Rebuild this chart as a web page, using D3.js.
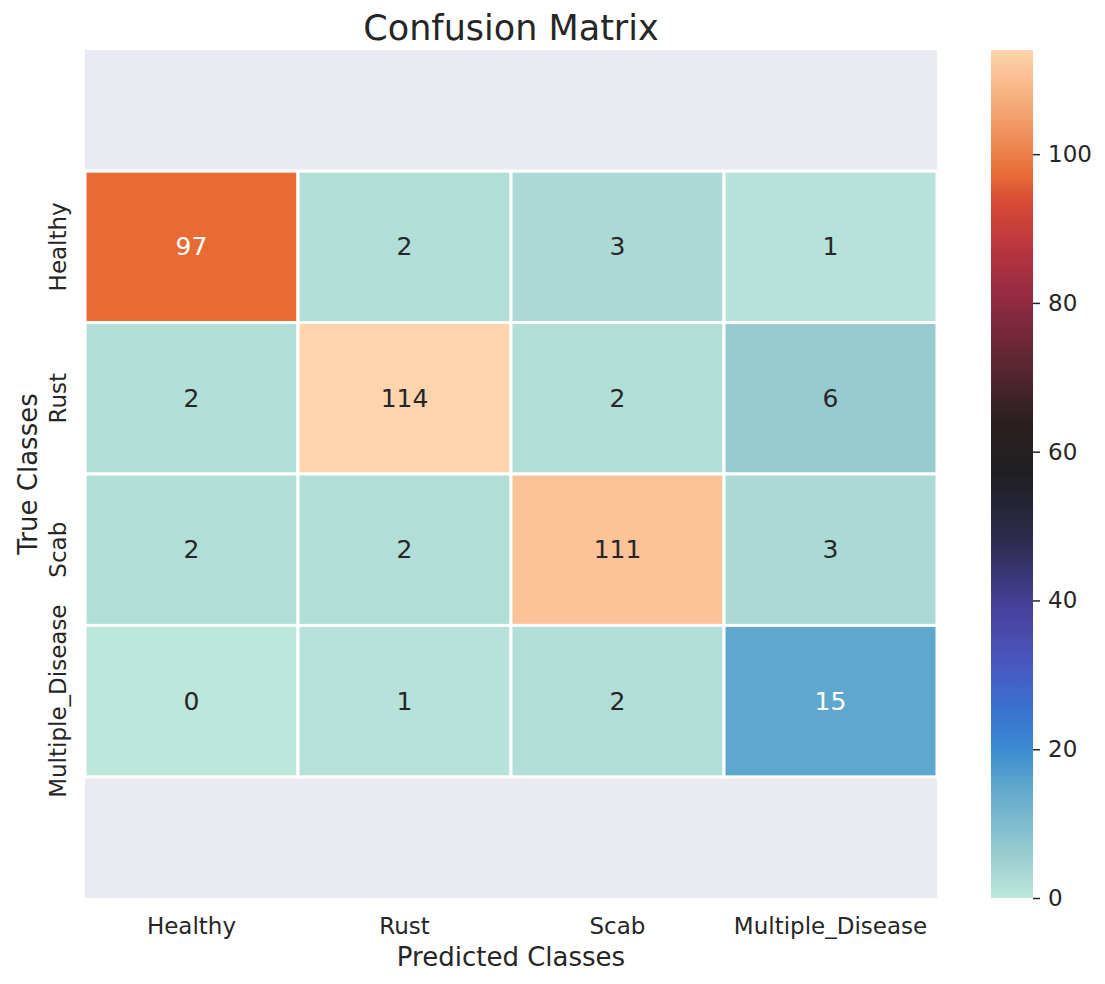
<!DOCTYPE html>
<html>
<head>
<meta charset="utf-8">
<script src="https://cdn.jsdelivr.net/npm/d3@7"></script>
<style>
  body { margin: 0; background: #fff; }
  text { font-family: "DejaVu Sans", sans-serif; fill: #262626; }
</style>
</head>
<body>
<div id="plot"></div>
<script>
// confusion matrix, seaborn-style heatmap with icefire colours
const classes = ['Healthy', 'Rust', 'Scab', 'Multiple_Disease'];
const matrix = [
  [97, 2, 3, 1],
  [2, 114, 2, 6],
  [2, 2, 111, 3],
  [0, 1, 2, 15],
];
const cbarTicks = [0, 20, 40, 60, 80, 100];

// icefire approximation (position in [0,1], colour)
const icefireStops = [
  [0.0, '#bde7db'], [0.053, '#98cbd0'], [0.13, '#5fa8cd'], [0.175, '#3b8bd0'],
  [0.22, '#3a73d0'], [0.28, '#4a55bf'], [0.35, '#463f95'], [0.42, '#2e2c4f'],
  [0.5, '#1f1f22'], [0.56, '#2a1f1f'], [0.62, '#552530'], [0.7, '#8e2a42'],
  [0.76, '#b5333f'], [0.82, '#d84a35'], [0.851, '#e86a35'], [0.92, '#f3a06c'],
  [0.974, '#fbc397'], [1.0, '#fdd4ab'],
];

const W = 1105, H = 984;
const ax = { left: 85, right: 937, top: 50, bottom: 898 };
const cb = { left: 991, right: 1033 };

const svg = d3.select('#plot').append('svg').attr('width', W).attr('height', H);

const vmin = 0;
const vmax = d3.max(matrix.flat());
const icefire = d3.scaleLinear()
  .domain(icefireStops.map((s) => s[0]))
  .range(icefireStops.map((s) => s[1]))
  .interpolate(d3.interpolateRgb)
  .clamp(true);
const color = (v) => icefire((v - vmin) / (vmax - vmin));

const x = d3.scaleBand().domain(classes).range([ax.left, ax.right]);
// y limits extend 0.8 row past the data on both sides
const yLin = d3.scaleLinear().domain([-0.8, classes.length + 0.8]).range([ax.top, ax.bottom]);

svg.append('rect')
  .attr('x', ax.left).attr('y', ax.top)
  .attr('width', ax.right - ax.left).attr('height', ax.bottom - ax.top)
  .attr('fill', '#eaeaf2');

const cells = [];
matrix.forEach((row, i) => row.forEach((v, j) => cells.push({ i, j, v })));

const g = svg.append('g');
g.selectAll('rect.cell').data(cells).enter().append('rect')
  .attr('class', 'cell')
  .attr('x', (d) => x(classes[d.j]))
  .attr('y', (d) => yLin(d.i))
  .attr('width', x.bandwidth())
  .attr('height', (d) => yLin(d.i + 1) - yLin(d.i))
  .attr('fill', (d) => color(d.v))
  .attr('stroke', '#fff')
  .attr('stroke-width', 3);

const lum = (c) => {
  const rgb = d3.rgb(c);
  const f = (u) => { u /= 255; return u <= 0.03928 ? u / 12.92 : Math.pow((u + 0.055) / 1.055, 2.4); };
  return 0.2126 * f(rgb.r) + 0.7152 * f(rgb.g) + 0.0722 * f(rgb.b);
};

g.selectAll('text.annot').data(cells).enter().append('text')
  .attr('class', 'annot')
  .attr('x', (d) => x(classes[d.j]) + x.bandwidth() / 2)
  .attr('y', (d) => yLin(d.i + 0.5))
  .attr('text-anchor', 'middle')
  .attr('dominant-baseline', 'central')
  .style('font-size', '25px')
  .style('fill', (d) => (lum(color(d.v)) > 0.408 ? '#262626' : '#ffffff'))
  .text((d) => d.v);

// x tick labels
svg.append('g').selectAll('text').data(classes).enter().append('text')
  .attr('x', (d) => x(d) + x.bandwidth() / 2)
  .attr('y', ax.bottom + 28)
  .attr('text-anchor', 'middle')
  .attr('dominant-baseline', 'central')
  .style('font-size', '23px')
  .text((d) => d);

// y tick labels (rotated)
svg.append('g').selectAll('text').data(classes).enter().append('text')
  .attr('transform', (d, i) => `translate(${ax.left - 27},${yLin(i + 0.5)}) rotate(-90)`)
  .attr('text-anchor', 'middle')
  .attr('dominant-baseline', 'central')
  .style('font-size', '23px')
  .text((d) => d);

svg.append('text')
  .attr('x', (ax.left + ax.right) / 2).attr('y', 957)
  .attr('text-anchor', 'middle').attr('dominant-baseline', 'central')
  .style('font-size', '26px')
  .text('Predicted Classes');

svg.append('text')
  .attr('transform', `translate(28,${(ax.top + ax.bottom) / 2}) rotate(-90)`)
  .attr('text-anchor', 'middle').attr('dominant-baseline', 'central')
  .style('font-size', '26px')
  .text('True Classes');

svg.append('text')
  .attr('x', (ax.left + ax.right) / 2).attr('y', 28)
  .attr('text-anchor', 'middle').attr('dominant-baseline', 'central')
  .style('font-size', '35px')
  .text('Confusion Matrix');

// colorbar
const cbY = d3.scaleLinear().domain([vmin, vmax]).range([ax.bottom, ax.top]);
const defs = svg.append('defs');
const grad = defs.append('linearGradient').attr('id', 'cbgrad')
  .attr('x1', 0).attr('y1', 1).attr('x2', 0).attr('y2', 0);
d3.range(0, 1.0001, 0.01).forEach((t) => {
  grad.append('stop').attr('offset', t).attr('stop-color', icefire(t));
});
svg.append('rect')
  .attr('x', cb.left).attr('y', cbY(vmax))
  .attr('width', cb.right - cb.left).attr('height', cbY(vmin) - cbY(vmax))
  .attr('fill', 'url(#cbgrad)');

const cbAxis = d3.axisRight(cbY).tickValues(cbarTicks).tickSize(7).tickPadding(8);
const cbG = svg.append('g').attr('transform', `translate(${cb.right},0)`).call(cbAxis);
cbG.select('.domain').remove();
cbG.selectAll('line').attr('stroke', '#262626').attr('stroke-width', 1.5);
cbG.selectAll('text').style('font-size', '23px').style('font-family', '"DejaVu Sans", sans-serif').attr('fill', '#262626');
</script>
</body>
</html>
